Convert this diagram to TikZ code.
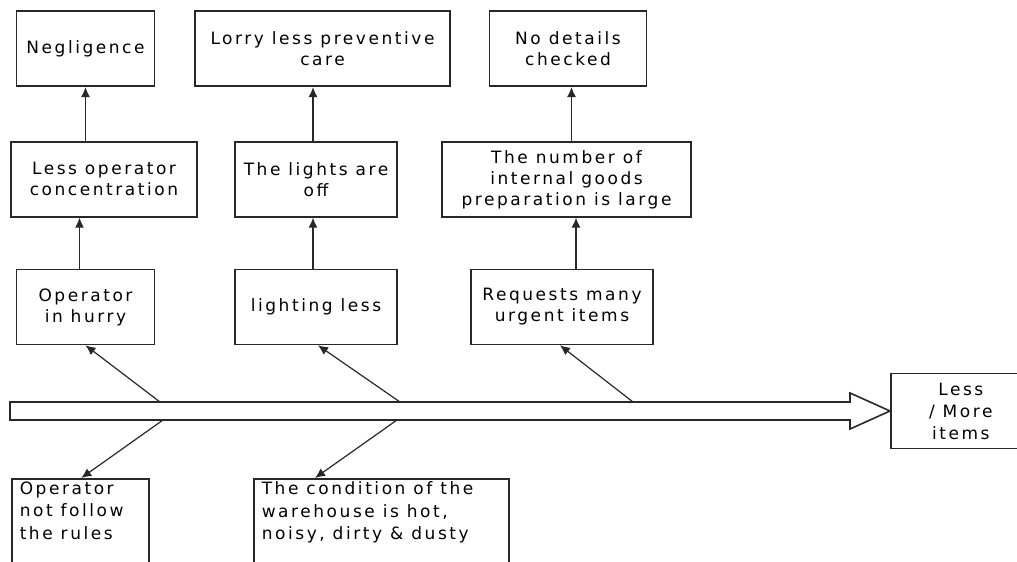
\documentclass[tikz,border=0pt]{standalone}
\usepackage{fontspec}
\usetikzlibrary{arrows.meta,positioning,calc}
\newfontfamily\boxfont[LetterSpace=15]{DejaVu Sans}
\definecolor{lineink}{RGB}{40,40,40}

\begin{document}
\begin{tikzpicture}[x=1pt,y=1pt,
        box/.style={rectangle,draw=lineink,line width=1.6pt,fill=white,align=center,
          minimum height=75pt,inner sep=2pt,font=\boxfont\fontsize{17}{21}\selectfont},
        lowbox/.style={rectangle,draw=lineink,line width=1.6pt,fill=white,anchor=north west,
          inner xsep=8pt,inner ysep=3pt,font=\boxfont\fontsize{17}{22.5}\selectfont},
        spine/.style={draw=lineink,line width=1.6pt,fill=white},
        arrow/.style={-{Latex[length=10pt,width=9pt]},line width=1.2pt,draw=lineink}]
        \useasboundingbox (0,0) rectangle (1017,562);
        % causes above the spine
        \node[box,minimum width=138pt] (hurry) at (85.5,255) {Operator\\in hurry};
        \node[box,minimum width=186pt,above=51pt of hurry,xshift=18.5pt] (conc) {Less operator\\concentration};
        \node[box,minimum width=138pt,above=54pt of conc,xshift=-18.5pt] (negl) {Negligence};
        \node[box,minimum width=162pt] (lightless) at (316,255) {lighting less};
        \node[box,minimum width=162pt,above=51pt of lightless] (lightsoff) {The lights are\\off};
        \node[box,minimum width=255pt,above=54pt of lightsoff,xshift=6.5pt] (lorry) {Lorry less preventive\\care};
        \node[box,minimum width=182pt] (urgent) at (562,255) {Requests many\\urgent items};
        \node[box,minimum width=249pt,above=51pt of urgent,xshift=4.5pt] (prep) {The number of\\internal goods\\preparation is large};
        \node[box,minimum width=157pt,above=54pt of prep,xshift=1.5pt] (details) {No details\\checked};
        % spine
        \draw[spine] (10,142) -- (10,160) -- (850,160) -- (850,169) -- (890,151)
          -- (850,133) -- (850,142) -- cycle;
        \coordinate (tip) at (890,151);
        \coordinate (u1) at (160,160);
        \coordinate (u2) at (400,160);
        \coordinate (u3) at (633,160);
        \coordinate (d1) at (163,142);
        \coordinate (d2) at (397,142);
        \node[box,anchor=west,font=\boxfont\fontsize{17}{22}\selectfont] (effect) at (tip)
          {\parbox{136pt}{\centering Less\\/ More\\items}\hspace*{60pt}};
        % causes below the spine
        \node[lowbox] (rules) at (11,84) {\parbox[t][100pt][t]{121pt}{\raggedright Operator\\not follow\\the rules}};
        \node[lowbox] (warehouse) at (253,84) {\parbox[t][100pt][t]{239pt}{\raggedright The condition of the\\warehouse is hot,\\noisy, dirty \& dusty}};
        % connectors
        \draw[arrow] (u1) -- (hurry.south);
        \draw[arrow] (u2) -- ([xshift=2pt]lightless.south);
        \draw[arrow] (u3) -- ([xshift=-2pt]urgent.south);
        \draw[arrow] (d1) -- ([xshift=1pt]rules.north);
        \draw[arrow] (d2) -- ([xshift=62pt]warehouse.north west);
        \draw[arrow] ([xshift=-6pt]hurry.north) -- ([xshift=-24.5pt]conc.south);
        \draw[arrow] ([xshift=-18.5pt]conc.north) -- (negl.south);
        \draw[arrow] ([xshift=-3pt]lightless.north) -- ([xshift=-3pt]lightsoff.south);
        \draw[arrow] ([xshift=-3pt]lightsoff.north) -- ([xshift=-9.5pt]lorry.south);
        \draw[arrow] ([xshift=14pt]urgent.north) -- ([xshift=9.5pt]prep.south);
        \draw[arrow] ([xshift=5pt]prep.north) -- ([xshift=3.5pt]details.south);
      \end{tikzpicture}
\end{document}
